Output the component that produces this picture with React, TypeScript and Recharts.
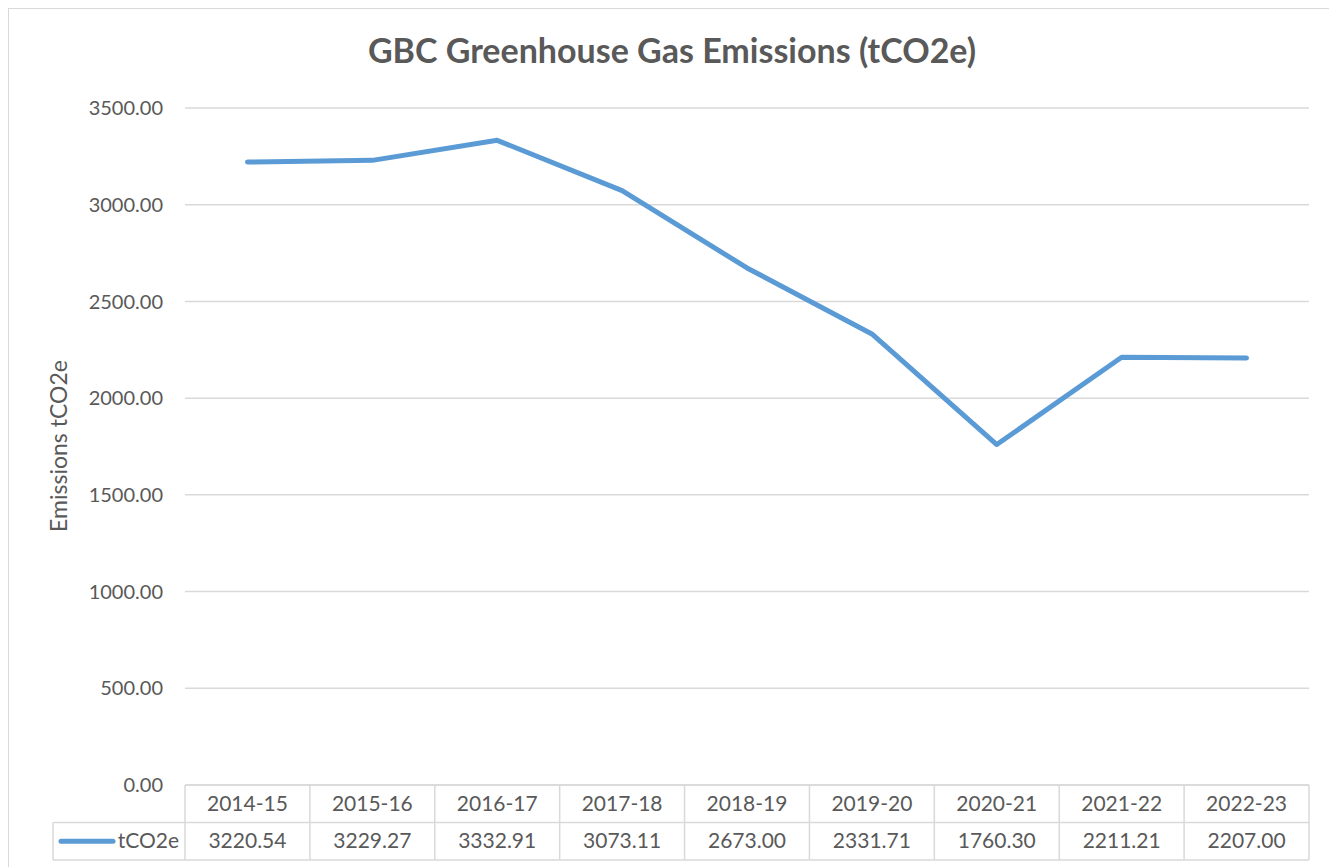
import React from 'react';
import { LineChart, Line, XAxis, YAxis, CartesianGrid } from 'recharts';

const categories = ['2014-15', '2015-16', '2016-17', '2017-18', '2018-19', '2019-20', '2020-21', '2021-22', '2022-23'];
const emissions = [3220.54, 3229.27, 3332.91, 3073.11, 2673.0, 2331.71, 1760.3, 2211.21, 2207.0];
const yTicks = [0, 500, 1000, 1500, 2000, 2500, 3000, 3500];
const seriesName = 'tCO2e';
const title = 'GBC Greenhouse Gas Emissions (tCO2e)';
const yLabel = 'Emissions tCO2e';

const data = categories.map((c, i) => ({ cat: c, value: emissions[i] }));

const FONT = 'Lato, "Open Sans", sans-serif';
const TEXT = '#595959';
const GRID = '#d9d9d9';
const LINE = '#5b9bd5';

const CHART_W = 1328;
const CHART_H = 858;
const MARGIN = { top: 99, right: 28, bottom: 7, left: 40 };
const YAXIS_W = 136;
const XAXIS_H = 75;
const PLOT_LEFT = MARGIN.left + YAXIS_W;
const PLOT_W = CHART_W - MARGIN.right - PLOT_LEFT;
const CELL_W = PLOT_W / categories.length;
const TABLE_TOP = CHART_H - MARGIN.bottom - XAXIS_H;
const ROW_H = 37.5;
const LEGEND_W = 132;

const TableTick = (props: any) => {
  const { x, payload } = props;
  const i = payload.index;
  const left = x - CELL_W / 2;
  const right = x + CELL_W / 2;
  const y0 = TABLE_TOP;
  const y1 = y0 + ROW_H;
  const y2 = y0 + ROW_H * 2;
  return (
    <g>
      <line x1={right} y1={y0} x2={right} y2={y2} stroke={GRID} strokeWidth={1.5} />
      <line x1={left} y1={y1} x2={right} y2={y1} stroke={GRID} strokeWidth={1.5} />
      <line x1={left} y1={y2} x2={right} y2={y2} stroke={GRID} strokeWidth={1.5} />
      {i === 0 && (
        <g>
          <line x1={left} y1={y0} x2={left} y2={y2} stroke={GRID} strokeWidth={1.5} />
          <line x1={left - LEGEND_W} y1={y1} x2={left} y2={y1} stroke={GRID} strokeWidth={1.5} />
          <line x1={left - LEGEND_W} y1={y2} x2={left} y2={y2} stroke={GRID} strokeWidth={1.5} />
          <line x1={left - LEGEND_W} y1={y1} x2={left - LEGEND_W} y2={y2} stroke={GRID} strokeWidth={1.5} />
          <line x1={left - LEGEND_W + 8} y1={(y1 + y2) / 2} x2={left - LEGEND_W + 60} y2={(y1 + y2) / 2} stroke={LINE} strokeWidth={5} strokeLinecap="round" />
          <text x={left - 6} y={(y1 + y2) / 2 + 7} textAnchor="end" fill={TEXT} fontSize={21} fontFamily={FONT}>{seriesName}</text>
        </g>
      )}
      <text x={x} y={(y0 + y1) / 2 + 7} textAnchor="middle" fill={TEXT} fontSize={21} fontFamily={FONT}>{payload.value}</text>
      <text x={x} y={(y1 + y2) / 2 + 7} textAnchor="middle" fill={TEXT} fontSize={21} fontFamily={FONT}>{emissions[i].toFixed(2)}</text>
    </g>
  );
};

export default function App() {
  return (
    <div style={{ position: 'relative', width: 1329, height: 859, borderLeft: `1.5px solid ${GRID}`, borderTop: `1.5px solid ${GRID}`, overflow: 'hidden', background: '#fff' }}>
      <style>{`body{overflow:hidden}`}</style>
      <div style={{ position: 'absolute', left: 263, width: 800, top: 21, textAlign: 'center', fontFamily: FONT, fontWeight: 700, fontSize: 34, lineHeight: '40px', color: TEXT }}>{title}</div>
      <div style={{ position: 'absolute', left: 49 - 150, top: 437 - 15, width: 300, height: 30, lineHeight: '30px', textAlign: 'center', transform: 'rotate(-90deg)', fontFamily: FONT, fontSize: 23, color: TEXT }}>{yLabel}</div>
      <LineChart width={CHART_W} height={CHART_H} data={data} margin={MARGIN}>
        <CartesianGrid vertical={false} stroke={GRID} strokeWidth={1.5} />
        <XAxis dataKey="cat" height={XAXIS_H} padding={{ left: CELL_W / 2, right: CELL_W / 2 }} axisLine={{ stroke: GRID, strokeWidth: 1.5 }} tickLine={false} tick={<TableTick />} interval={0} />
        <YAxis width={YAXIS_W} domain={[0, 3500]} ticks={yTicks} axisLine={false} tickLine={false} tickSize={0} tickMargin={22}
          tickFormatter={(v: number) => v.toFixed(2)} tick={{ fill: TEXT, fontSize: 20, fontFamily: FONT }} />
        <Line type="linear" dataKey="value" stroke={LINE} strokeWidth={5} dot={false} isAnimationActive={false} strokeLinecap="round" strokeLinejoin="round" />
      </LineChart>
    </div>
  );
}
